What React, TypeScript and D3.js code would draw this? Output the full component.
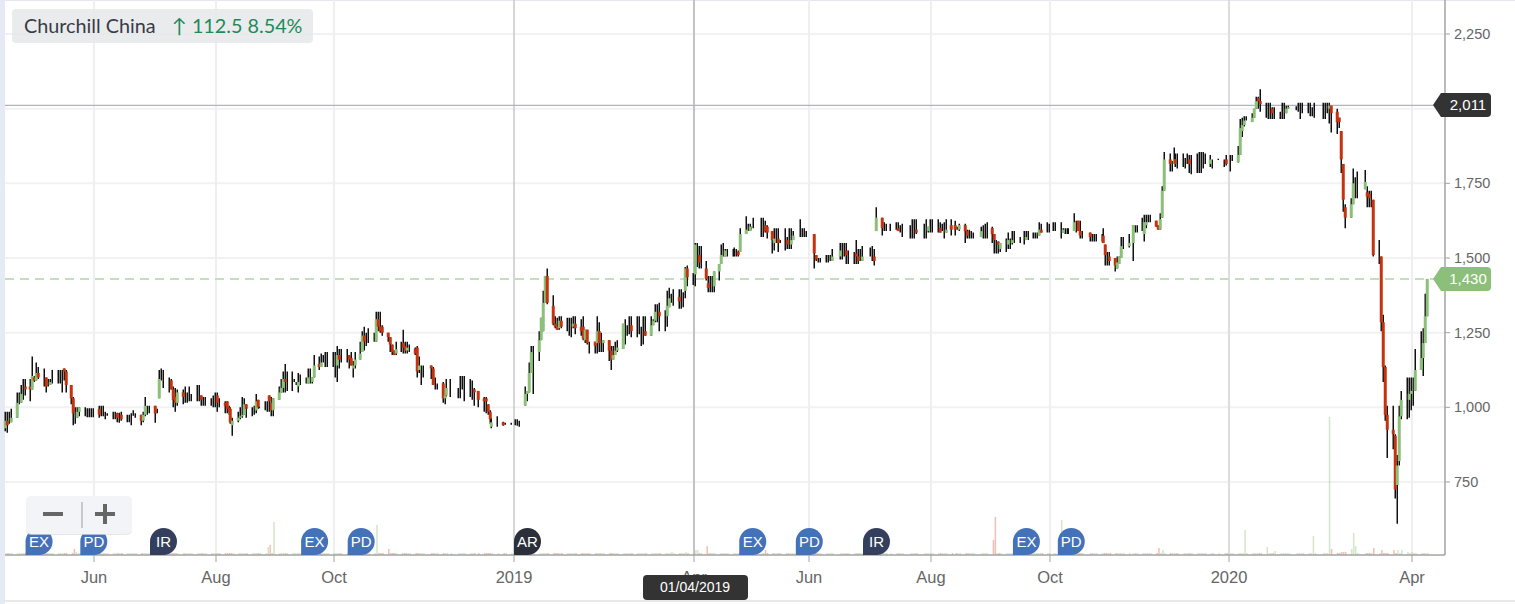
import React from "react";
import * as d3 from "d3";

const opens = [
  930, 955, 945, 950, 965, 1015, 1015, 1045, 1070, 1070,
  1060, 1100, 1090, 1115, 1100, 1100, 1075, 1075, 1085, 1085,
  1085, 1085, 1130, 1120, 1075, 1030, 975, 965, 985, 985,
  985, 985, 985, 985, 995, 975, 975, 965, 975, 965,
  965, 980, 965, 975, 960, 960, 960, 975, 970, 975,
  955, 975, 1005, 1005, 1005, 985, 1030, 1095, 1095, 1095,
  1090, 1060, 1035, 1015, 1050, 1035, 1035, 1035, 1035, 1035,
  1035, 1040, 1025, 1025, 1025, 1025, 1025, 1040, 1015, 1015,
  1020, 1000, 995, 940, 955, 965, 970, 975, 1010, 995,
  995, 990, 1025, 1000, 1000, 1000, 1040, 1015, 990, 1025,
  1050, 1065, 1095, 1085, 1085, 1090, 1080, 1070, 1085, 1085,
  1080, 1085, 1085, 1100, 1145, 1135, 1150, 1150, 1150, 1150,
  1150, 1140, 1175, 1160, 1160, 1175, 1165, 1130, 1140, 1160,
  1185, 1240, 1220, 1220, 1220, 1220, 1295, 1270, 1270, 1250,
  1235, 1210, 1190, 1180, 1195, 1215, 1205, 1190, 1200, 1195,
  1200, 1125, 1125, 1125, 1140, 1130, 1075, 1075, 1080, 1030,
  1040, 1065, 1065, 1065, 1065, 1065, 1065, 1065, 1060, 1055,
  1030, 1030, 1010, 985, 935, 950, 950, 945, 945, 950,
  950, 945, 1005, 1045, 1050, 1115, 1185, 1185, 1225, 1255,
  1350, 1440, 1340, 1280, 1270, 1265, 1290, 1270, 1275, 1275,
  1270, 1280, 1270, 1270, 1225, 1260, 1215, 1220, 1215, 1255,
  1215, 1215, 1225, 1190, 1160, 1175, 1190, 1195, 1280, 1270,
  1270, 1275, 1255, 1255, 1255, 1255, 1255, 1240, 1275, 1290,
  1320, 1320, 1305, 1305, 1335, 1365, 1365, 1370, 1355, 1355, 1390, 1465,
  1440, 1445, 1510, 1510, 1485, 1465, 1415, 1400, 1400, 1405,
  1455, 1480, 1510, 1505, 1515, 1515, 1515, 1515, 1520, 1520,
  1580, 1595, 1590, 1600, 1600, 1600, 1600, 1610, 1605, 1590,
  1550, 1565, 1565, 1550, 1550, 1560, 1545, 1545, 1560, 1575,
  1575, 1575, 1575, 1580, 1510, 1490, 1490, 1490, 1490, 1490,
  1490, 1505, 1525, 1525, 1525, 1510, 1510, 1515, 1505, 1490,
  1490, 1505, 1505, 1505, 1590, 1635, 1600, 1600, 1600, 1600,
  1600, 1590, 1590, 1590, 1590, 1590, 1595, 1585, 1585, 1590,
  1595, 1595, 1595, 1600, 1590, 1590, 1585, 1610, 1610, 1600,
  1595, 1610, 1590, 1575, 1575, 1575, 1570, 1590, 1590, 1590,
  1600, 1580, 1560, 1555, 1530, 1550, 1545, 1560, 1550, 1560,
  1560, 1560, 1560, 1570, 1575, 1575, 1575, 1575, 1595, 1585,
  1585, 1590, 1590, 1590, 1585, 1595, 1595, 1595, 1590, 1620,
  1625, 1590, 1580, 1585, 1570, 1570, 1570, 1570, 1575, 1545,
  1510, 1505, 1500, 1465, 1480, 1500, 1540, 1540, 1550, 1610,
  1610, 1600, 1580, 1610, 1620, 1620, 1625, 1610, 1595, 1635,
  1725, 1830, 1815, 1815, 1830, 1815, 1815, 1815, 1815, 1830,
  1815, 1815, 1815, 1815, 1815, 1815, 1815, 1825, 1830, 1825,
  1830, 1815, 1830, 1820, 1845, 1925, 1945, 1960, 1955, 1970,
  2000, 2035, 2025, 2015, 2010, 2010, 2000, 1985, 1985, 1985,
  1985, 1985, 2000, 2005, 2005, 2005, 2005, 2005, 2005, 2005,
  2005, 2005, 2005, 2005, 2000, 2010, 1990, 1970, 1925, 1815,
  1670, 1635, 1680, 1750, 1750, 1730, 1720, 1715, 1700, 1695,
  1510, 1505, 1285, 1135, 975, 925, 905, 740, 820, 970,
  1025, 1025, 1045, 1055, 1055, 1125, 1165, 1215, 1305,
];

const closes = [
  955, 940, 945, 965, 1015, 1015, 1045, 1045, 1060, 1060,
  1105, 1090, 1115, 1100, 1100, 1070, 1075, 1085, 1085, 1085,
  1085, 1085, 1120, 1075, 1030, 980, 975, 985, 1000, 985,
  985, 985, 985, 985, 975, 975, 975, 965, 975, 965,
  965, 965, 965, 960, 960, 960, 960, 975, 970, 955,
  975, 1005, 1005, 1005, 980, 985, 1095, 1095, 1095, 1095,
  1060, 1025, 1015, 1050, 1035, 1035, 1035, 1035, 1035, 1035,
  1035, 1025, 1025, 1025, 1025, 1025, 1025, 1015, 1015, 1005,
  995, 985, 950, 955, 965, 970, 975, 1010, 995, 995,
  995, 1020, 1000, 1000, 1000, 1000, 1020, 990, 1030, 1050,
  1065, 1095, 1085, 1085, 1085, 1090, 1080, 1085, 1085, 1085,
  1100, 1085, 1100, 1140, 1135, 1150, 1150, 1150, 1150, 1150,
  1150, 1175, 1160, 1160, 1160, 1160, 1140, 1140, 1160, 1180,
  1240, 1220, 1220, 1220, 1220, 1295, 1270, 1255, 1250, 1235,
  1210, 1185, 1175, 1195, 1195, 1200, 1190, 1200, 1200, 1180,
  1120, 1140, 1125, 1125, 1130, 1075, 1075, 1075, 1030, 1040,
  1065, 1065, 1065, 1065, 1065, 1065, 1065, 1065, 1050, 1025,
  1020, 1020, 985, 960, 950, 950, 940, 945, 945, 950,
  950, 945, 1045, 1055, 1115, 1185, 1185, 1225, 1300, 1350,
  1440, 1350, 1280, 1270, 1260, 1290, 1270, 1270, 1275, 1275,
  1280, 1265, 1255, 1230, 1260, 1215, 1215, 1205, 1255, 1215,
  1215, 1225, 1190, 1160, 1175, 1190, 1200, 1280, 1280, 1270,
  1270, 1255, 1255, 1255, 1255, 1255, 1240, 1275, 1290, 1320,
  1320, 1305, 1305, 1340, 1365, 1365, 1365, 1355, 1355, 1355, 1465, 1435,
  1440, 1545, 1510, 1485, 1485, 1430, 1400, 1400, 1400, 1455,
  1480, 1510, 1510, 1525, 1515, 1515, 1515, 1515, 1510, 1580,
  1595, 1595, 1605, 1600, 1600, 1600, 1600, 1590, 1585, 1560,
  1565, 1565, 1550, 1550, 1550, 1545, 1545, 1560, 1575, 1575,
  1575, 1575, 1575, 1515, 1495, 1490, 1490, 1490, 1490, 1490,
  1505, 1525, 1525, 1525, 1510, 1510, 1510, 1505, 1490, 1490,
  1505, 1505, 1505, 1490, 1635, 1600, 1600, 1600, 1600, 1600,
  1590, 1590, 1590, 1590, 1590, 1590, 1585, 1585, 1585, 1605,
  1595, 1595, 1595, 1585, 1590, 1590, 1595, 1595, 1595, 1600,
  1610, 1590, 1575, 1575, 1575, 1575, 1590, 1590, 1590, 1590,
  1580, 1560, 1560, 1545, 1550, 1550, 1560, 1560, 1560, 1560,
  1560, 1560, 1570, 1570, 1575, 1575, 1575, 1595, 1585, 1585,
  1585, 1590, 1590, 1590, 1595, 1595, 1595, 1595, 1620, 1620,
  1590, 1575, 1580, 1570, 1570, 1570, 1570, 1570, 1550, 1510,
  1510, 1490, 1475, 1485, 1505, 1540, 1540, 1550, 1610, 1610,
  1610, 1600, 1620, 1620, 1620, 1620, 1605, 1595, 1630, 1725,
  1830, 1815, 1815, 1830, 1815, 1815, 1815, 1815, 1815, 1815,
  1815, 1815, 1815, 1815, 1815, 1815, 1830, 1825, 1830, 1825,
  1815, 1815, 1830, 1845, 1935, 1945, 1960, 1960, 1970, 2000,
  2025, 2025, 2015, 2015, 2010, 2010, 1985, 1985, 1985, 1985,
  1985, 2000, 2005, 2005, 2005, 2005, 2005, 2005, 2005, 2005,
  2005, 2005, 2005, 2005, 2010, 1985, 1955, 1955, 1830, 1695,
  1635, 1680, 1750, 1750, 1750, 1755, 1705, 1700, 1700, 1510,
  1510, 1285, 1135, 975, 925, 910, 725, 805, 970, 1025,
  1025, 1045, 1055, 1055, 1125, 1165, 1215, 1305, 1430,
];

const highs = [
  985, 985, 985, 995, 1050, 1050, 1075, 1095, 1095, 1095,
  1170, 1105, 1150, 1135, 1130, 1100, 1095, 1095, 1125, 1125,
  1125, 1125, 1130, 1125, 1075, 1035, 1000, 1000, 1000, 1000,
  997, 997, 997, 997, 1005, 1005, 1005, 985, 980, 985,
  985, 982, 982, 985, 975, 975, 980, 990, 980, 975,
  985, 1035, 1005, 1005, 1005, 995, 1125, 1130, 1125, 1100,
  1095, 1070, 1065, 1060, 1060, 1070, 1050, 1070, 1045, 1075,
  1075, 1040, 1035, 1035, 1030, 1040, 1050, 1050, 1030, 1020,
  1020, 1005, 1000, 965, 985, 1000, 1035, 1030, 1010, 1000,
  1005, 1045, 1025, 1003, 1020, 1020, 1040, 1035, 1030, 1070,
  1095, 1120, 1145, 1120, 1120, 1095, 1085, 1115, 1110, 1100,
  1130, 1130, 1100, 1175, 1170, 1180, 1175, 1185, 1185, 1185,
  1185, 1205, 1195, 1195, 1195, 1175, 1185, 1155, 1185, 1220,
  1255, 1270, 1250, 1265, 1250, 1320, 1320, 1320, 1275, 1250,
  1235, 1210, 1190, 1220, 1220, 1260, 1220, 1220, 1210, 1200,
  1205, 1170, 1140, 1140, 1140, 1135, 1100, 1080, 1085, 1040,
  1095, 1095, 1065, 1105, 1105, 1105, 1095, 1090, 1065, 1055,
  1035, 1035, 1010, 990, 965, 970, 952, 948, 948, 960,
  960, 955, 1070, 1055, 1150, 1205, 1205, 1255, 1300, 1390,
  1440, 1465, 1375, 1305, 1300, 1305, 1305, 1300, 1300, 1300,
  1305, 1305, 1295, 1305, 1260, 1260, 1220, 1220, 1305, 1285,
  1250, 1225, 1225, 1205, 1205, 1220, 1225, 1280, 1295, 1275,
  1305, 1305, 1305, 1305, 1270, 1305, 1305, 1305, 1295, 1345,
  1345, 1350, 1325, 1390, 1400, 1380, 1395, 1395, 1395, 1385, 1470, 1475,
  1450, 1550, 1550, 1540, 1540, 1490, 1440, 1440, 1440, 1455,
  1480, 1545, 1550, 1530, 1530, 1530, 1535, 1530, 1525, 1600,
  1640, 1615, 1615, 1605, 1635, 1635, 1635, 1625, 1610, 1590,
  1600, 1600, 1600, 1560, 1600, 1570, 1600, 1600, 1590, 1630,
  1600, 1600, 1590, 1580, 1510, 1500, 1500, 1510, 1510, 1510,
  1530, 1550, 1550, 1550, 1550, 1525, 1520, 1560, 1530, 1530,
  1540, 1535, 1540, 1530, 1670, 1635, 1620, 1615, 1615, 1620,
  1620, 1610, 1615, 1610, 1630, 1630, 1630, 1615, 1630, 1605,
  1630, 1630, 1630, 1620, 1615, 1620, 1630, 1630, 1625, 1605,
  1615, 1615, 1595, 1595, 1590, 1585, 1605, 1610, 1615, 1620,
  1605, 1580, 1560, 1555, 1550, 1565, 1585, 1565, 1590, 1590,
  1570, 1590, 1590, 1590, 1585, 1585, 1585, 1620, 1615, 1620,
  1615, 1620, 1620, 1620, 1600, 1600, 1600, 1600, 1650, 1625,
  1625, 1625, 1590, 1585, 1580, 1580, 1580, 1580, 1600, 1545,
  1520, 1520, 1500, 1505, 1505, 1570, 1570, 1580, 1610, 1610,
  1610, 1635, 1645, 1645, 1645, 1645, 1625, 1610, 1650, 1740,
  1855, 1850, 1825, 1870, 1850, 1850, 1850, 1835, 1850, 1845,
  1845, 1850, 1855, 1855, 1855, 1850, 1845, 1830, 1832, 1830,
  1845, 1845, 1845, 1875, 1965, 1970, 1975, 1975, 1985, 2000,
  2040, 2040, 2065, 2020, 2020, 2020, 2005, 2005, 1990, 2020,
  2020, 2010, 2010, 2008, 2020, 2020, 2020, 2020, 2020, 2005,
  2020, 2020, 2020, 2020, 2020, 2010, 2000, 1970, 1925, 1815,
  1680, 1700, 1800, 1770, 1790, 1795, 1740, 1725, 1725, 1695,
  1560, 1505, 1310, 1140, 1005, 1005, 910, 840, 1005, 1055,
  1100, 1100, 1100, 1100, 1195, 1255, 1265, 1380, 1430,
];

const lows = [
  920, 915, 945, 950, 965, 1010, 1015, 1025, 1040, 1020,
  1060, 1085, 1090, 1095, 1070, 1050, 1070, 1075, 1080, 1080,
  1080, 1050, 1090, 1050, 1010, 940, 945, 965, 970, 970,
  967, 967, 967, 967, 965, 970, 970, 960, 972, 960,
  960, 950, 948, 955, 950, 950, 940, 972, 965, 940,
  950, 970, 975, 980, 948, 980, 1030, 1090, 1065, 1050,
  1060, 1000, 985, 1005, 1010, 1015, 1015, 1020, 1020, 1020,
  1020, 1005, 1005, 1005, 1005, 1000, 1000, 985, 1000, 980,
  980, 975, 945, 905, 950, 960, 965, 975, 965, 970,
  975, 980, 995, 997, 990, 985, 985, 970, 970, 1025,
  1050, 1050, 1050, 1055, 1055, 1085, 1075, 1050, 1075, 1080,
  1080, 1080, 1080, 1100, 1125, 1135, 1150, 1135, 1135, 1135,
  1100, 1085, 1130, 1150, 1150, 1130, 1140, 1100, 1130, 1160,
  1185, 1190, 1205, 1215, 1220, 1220, 1255, 1250, 1240, 1220,
  1185, 1175, 1175, 1175, 1185, 1180, 1180, 1180, 1185, 1175,
  1100, 1115, 1075, 1100, 1095, 1075, 1060, 1060, 1015, 1010,
  1035, 1035, 1030, 1030, 1060, 1020, 1035, 1025, 1005, 1000,
  985, 980, 975, 945, 930, 935, 938, 942, 942, 940,
  938, 935, 1005, 1020, 1050, 1115, 1045, 1155, 1225, 1255,
  1350, 1345, 1275, 1265, 1260, 1260, 1265, 1255, 1240, 1235,
  1265, 1245, 1240, 1225, 1215, 1210, 1180, 1180, 1180, 1185,
  1185, 1185, 1155, 1125, 1160, 1175, 1185, 1195, 1210, 1240,
  1245, 1235, 1235, 1245, 1205, 1210, 1240, 1240, 1275, 1285,
  1285, 1255, 1255, 1270, 1335, 1350, 1340, 1330, 1330, 1335, 1365, 1405,
  1410, 1405, 1470, 1465, 1465, 1425, 1385, 1385, 1385, 1385,
  1425, 1480, 1505, 1505, 1505, 1505, 1505, 1505, 1505, 1520,
  1580, 1590, 1590, 1595, 1600, 1570, 1570, 1585, 1565, 1515,
  1525, 1550, 1520, 1550, 1525, 1530, 1530, 1530, 1560, 1570,
  1570, 1570, 1570, 1465, 1490, 1485, 1485, 1485, 1485, 1490,
  1490, 1495, 1495, 1505, 1480, 1480, 1480, 1480, 1480, 1490,
  1490, 1505, 1490, 1475, 1590, 1575, 1590, 1590, 1590, 1595,
  1590, 1585, 1570, 1565, 1565, 1565, 1580, 1565, 1565, 1585,
  1585, 1585, 1585, 1585, 1590, 1565, 1585, 1575, 1575, 1595,
  1590, 1550, 1565, 1565, 1565, 1565, 1570, 1565, 1565, 1565,
  1550, 1515, 1515, 1515, 1520, 1520, 1530, 1530, 1545, 1550,
  1550, 1545, 1560, 1560, 1565, 1565, 1565, 1575, 1585, 1585,
  1585, 1590, 1590, 1565, 1585, 1580, 1580, 1580, 1590, 1585,
  1590, 1565, 1565, 1555, 1555, 1555, 1555, 1555, 1550, 1475,
  1475, 1475, 1455, 1465, 1480, 1500, 1530, 1535, 1490, 1585,
  1585, 1590, 1555, 1600, 1620, 1620, 1605, 1595, 1595, 1635,
  1725, 1790, 1790, 1815, 1805, 1800, 1805, 1800, 1815, 1785,
  1780, 1785, 1785, 1785, 1800, 1815, 1805, 1800, 1828, 1805,
  1810, 1790, 1825, 1820, 1845, 1905, 1940, 1960, 1955, 1970,
  2000, 2000, 1990, 1970, 1965, 1965, 1965, 1965, 1965, 1965,
  1965, 1985, 2000, 1995, 1990, 1965, 1985, 1985, 1975, 1975,
  1970, 1965, 1965, 1985, 1950, 1920, 1915, 1935, 1785, 1655,
  1600, 1635, 1680, 1700, 1700, 1730, 1670, 1670, 1670, 1505,
  1480, 1255, 1085, 955, 830, 860, 695, 610, 805, 960,
  960, 965, 990, 1005, 1055, 1125, 1105, 1215, 1305,
];

// weekdays without a candle
const closedDays = [
  "2018-11-19", "2018-11-29", "2018-12-03", "2018-12-13", "2018-12-25", "2018-12-26", "2019-01-01",
  "2019-05-06", "2019-05-27", "2019-06-03",
  "2019-06-14", "2019-07-01", "2019-07-11", "2019-07-19", "2019-07-26",
  "2019-08-13", "2019-08-26", "2019-09-17", "2019-10-02", "2019-10-21", "2019-11-12",
  "2019-12-25", "2019-12-26", "2020-01-01",
  "2020-02-03", "2020-02-14", "2020-03-06",
];

// candle number and volume of the days that stand out, the others are all quiet
const volumeDays = [
  25, 26, 86, 95, 96, 98, 135, 139, 235, 240, 243, 244, 247, 269, 342, 343, 365, 399, 401, 428,
  435, 439, 451, 456, 457, 460, 461, 462, 463, 464, 465, 471, 473, 477, 479, 481, 482, 484,
];
const volumeValues = [
  6, 3, 2, 8, 10, 33, 30, 6, 3, 3, 5, 5, 9, 5, 15, 38, 35, 7, 5, 25,
  8, 4, 19, 138, 6, 3, 3, 3, 6, 22, 9, 7, 5, 5, 5, 5, 3, 3,
];
const quietVolume = 2;

const yTicks = [750, 1000, 1250, 1500, 1750, 2000, 2250];
const hiddenYLabels = [2000]; // sits under the 2,011 tag
const xTickDates = [
  "2018-06-01", "2018-08-01", "2018-10-01", "2019-01-01", "2019-04-01",
  "2019-06-01", "2019-08-01", "2019-10-01", "2020-01-01", "2020-04-01",
];
const xTickLabels = ["Jun", "Aug", "Oct", "2019", "Apr", "Jun", "Aug", "Oct", "2020", "Apr"];
const xTickPixels = [94, 216, 334, 514, 694, 809, 931, 1050, 1229, 1412];

const eventDates = [
  "2018-04-27", "2018-05-25", "2018-06-29", "2018-09-14", "2018-10-08", "2019-01-01",
  "2019-04-25", "2019-05-25", "2019-06-28", "2019-09-12", "2019-10-05",
];
const eventLabels = ["EX", "PD", "IR", "EX", "PD", "AR", "EX", "PD", "IR", "EX", "PD"];

const lastPrice = 1430;
const highLine = 2011;

const parseDay = d3.timeParse("%Y-%m-%d");
const formatDay = d3.timeFormat("%Y-%m-%d");

const sessions = d3.timeDay
  .range(new Date(2018, 3, 17), new Date(2020, 3, 15))
  .filter((d) => d.getDay() > 0 && d.getDay() < 6 && !closedDays.includes(formatDay(d)))
  .slice(0, closes.length);

const WIDTH = 1515;
const HEIGHT = 604;
const LEFT = 5;
const RIGHT = 1445;
const BOTTOM = 555;

const UP = "#8cc07a";
const DOWN = "#c4320e";
const AXIS_FONT = "'Liberation Sans', Arial, sans-serif";

const x = d3
  .scaleTime()
  .domain([new Date(2018, 3, 17), ...xTickDates.map((t) => parseDay(t)!)])
  .range([6, ...xTickPixels]);
const y = d3.scaleLinear().domain([750, 2250]).range([482, 34]);
const yVolume = d3.scaleLinear().domain([0, 138]).range([BOTTOM, BOTTOM - 138]);

// snap candles to the pixel grid so the wicks stay black instead of grey
const candleX = (d: Date) => Math.round(x(d) - 1) + 0.25;

// round top and right bottom corner, square bottom left, like the chart's flags
const flagPath = (left: number) => {
  const r = 13.5;
  return `M${left},${BOTTOM} V${BOTTOM - r} A${r},${r} 0 1 1 ${left + r},${BOTTOM} Z`;
};

const priceTag = (price: number, fill: string, label: string) => {
  const cy = Math.round(y(price));
  return (
    <g>
      <path
        d={`M1433,${cy} L1441,${cy - 12} H1487 Q1491,${cy - 12} 1491,${cy - 8} V${cy + 8} Q1491,${cy + 12} 1487,${cy + 12} H1441 Z`}
        fill={fill}
      />
      <text x={1468} y={cy + 5} textAnchor="middle" fill="#fff" fontSize={15} fontFamily={AXIS_FONT}>
        {label}
      </text>
    </g>
  );
};

export default function App() {
  const volumes = sessions.map((_, i) => {
    const at = volumeDays.indexOf(i);
    return at >= 0 ? volumeValues[at] : quietVolume;
  });

  return (
    <svg
      width={WIDTH}
      height={HEIGHT}
      style={{ position: "absolute", left: 0, top: 0, background: "#fff" }}
    >
      <rect x={0} y={0} width={5} height={HEIGHT} fill="#e6eaf5" />
      <rect x={5} y={0} width={WIDTH} height={1} fill="#e6e8ef" />
      <rect x={5} y={600} width={WIDTH} height={2} fill="#e8e8e8" />

      {/* grid */}
      {yTicks.map((t) => (
        <line key={t} x1={LEFT} x2={RIGHT} y1={y(t)} y2={y(t)} stroke="#f2f2f4" strokeWidth={2} />
      ))}
      {xTickDates.map((t, i) => (
        <line
          key={t}
          x1={x(parseDay(t)!)}
          x2={x(parseDay(t)!)}
          y1={0}
          y2={BOTTOM}
          stroke={xTickLabels[i] === "2019" ? "#c9c9cd" : xTickLabels[i] === "2020" ? "#dddde0" : "#efeff1"}
          strokeWidth={xTickLabels[i] === "2019" ? 1.5 : 2}
        />
      ))}
      <line x1={694} x2={694} y1={0} y2={BOTTOM} stroke="#b4b4b8" strokeWidth={1.5} />

      {/* volume */}
      {sessions.map((d, i) => (
        <rect
          key={i}
          x={x(d) - 0.75}
          width={1.5}
          y={yVolume(volumes[i])}
          height={BOTTOM - yVolume(volumes[i])}
          fill={closes[i] >= opens[i] ? "#8cc07a" : "#d9603f"}
          opacity={0.4}
        />
      ))}

      {/* level lines */}
      <line x1={LEFT} x2={1435} y1={y(highLine)} y2={y(highLine)} stroke="#b3b3bb" strokeWidth={1.2} />
      <line
        x1={LEFT}
        x2={1435}
        y1={y(lastPrice)}
        y2={y(lastPrice)}
        stroke="#c4e0b8"
        strokeWidth={2}
        strokeDasharray="9 6"
      />

      {/* candles */}
      {sessions.map((d, i) => (
        <line
          key={i}
          x1={candleX(d)}
          x2={candleX(d)}
          y1={y(highs[i])}
          y2={y(lows[i])}
          stroke="#111"
          strokeWidth={1.5}
        />
      ))}
      {sessions.map((d, i) => {
        const top = y(Math.max(opens[i], closes[i]));
        const h = Math.abs(y(opens[i]) - y(closes[i]));
        if (h === 0) return null;
        return (
          <rect
            key={i}
            x={candleX(d) - 1.5}
            width={3}
            y={top}
            height={h}
            fill={closes[i] > opens[i] ? UP : DOWN}
          />
        );
      })}

      {/* axes */}
      <line x1={LEFT} x2={RIGHT} y1={BOTTOM} y2={BOTTOM} stroke="#a3a3a3" strokeWidth={1.5} />
      <line x1={RIGHT} x2={RIGHT} y1={0} y2={BOTTOM} stroke="#a3a3a3" strokeWidth={1.5} />
      {yTicks.map((t) => (
        <g key={t}>
          <line x1={RIGHT} x2={RIGHT + 5} y1={y(t)} y2={y(t)} stroke="#a3a3a3" />
          {!hiddenYLabels.includes(t) && (
            <text x={1454} y={y(t) + 5} fill="#666" fontSize={14.5} fontFamily={AXIS_FONT}>
              {d3.format(",")(t)}
            </text>
          )}
        </g>
      ))}
      {xTickDates.map((t, i) => (
        <g key={t}>
          <line
            x1={x(parseDay(t)!)}
            x2={x(parseDay(t)!)}
            y1={BOTTOM}
            y2={BOTTOM + 7}
            stroke="#a3a3a3"
          />
          <text
            x={x(parseDay(t)!)}
            y={583}
            textAnchor="middle"
            fill="#666"
            fontSize={16.5}
            fontFamily={AXIS_FONT}
          >
            {xTickLabels[i]}
          </text>
        </g>
      ))}

      {/* event flags */}
      {eventDates.map((t, i) => {
        const left = x(parseDay(t)!);
        const fill =
          eventLabels[i] === "IR" ? "#333f5c" : eventLabels[i] === "AR" ? "#2b2f3a" : "#4472b8";
        return (
          <g key={t}>
            <path d={flagPath(left)} fill={fill} />
            <text
              x={left + 13.5}
              y={BOTTOM - 8.5}
              textAnchor="middle"
              fill="#fff"
              fontSize={15}
              fontFamily={AXIS_FONT}
            >
              {eventLabels[i]}
            </text>
          </g>
        );
      })}

      {/* zoom buttons */}
      <rect x={26} y={497} width={106} height={38} rx={5} fill="#dcdcdc" opacity={0.7} />
      <rect x={26} y={496} width={106} height={38} rx={5} fill="#f3f4f7" />
      <rect x={43} y={512} width={20} height={4} fill="#666" />
      <line x1={82} x2={82} y1={502} y2={528} stroke="#bbb" strokeWidth={1.5} />
      <rect x={95} y={512} width={20} height={4} fill="#666" />
      <rect x={103} y={504} width={4} height={20} fill="#666" />

      {/* title */}
      <rect x={12} y={9} width={301} height={34} rx={4} fill="#e6e7e9" opacity={0.85} />
      <text x={24} y={33} fontSize={19.8} fontFamily="Lato, sans-serif" fill="#383c48">
        Churchill China
      </text>
      <text x={172} y={33} fontSize={19.8} fontFamily="Lato, sans-serif" fill="#1d8a5a">
        ↑ 112.5 8.54%
      </text>

      {/* price tags */}
      {priceTag(highLine, "#333333", d3.format(",")(highLine))}
      {priceTag(lastPrice, UP, d3.format(",")(lastPrice))}

      {/* date under the crosshair */}
      <rect x={643} y={575} width={105} height={25} rx={4} fill="#333" />
      <text x={695} y={592} textAnchor="middle" fill="#fff" fontSize={14} fontFamily={AXIS_FONT}>
        01/04/2019
      </text>
    </svg>
  );
}
